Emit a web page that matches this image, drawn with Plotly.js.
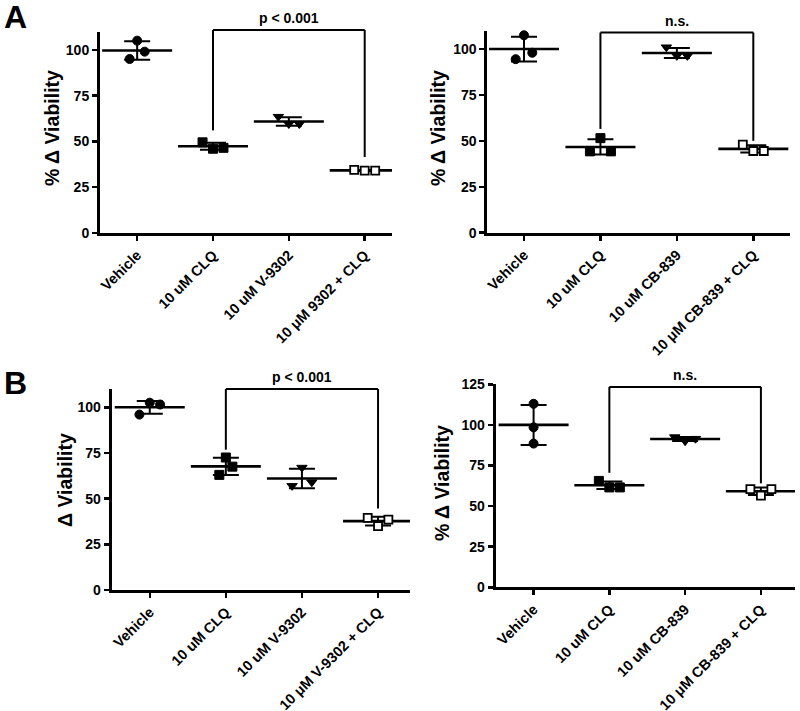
<!DOCTYPE html>
<html><head><meta charset="utf-8">
<script src="https://cdn.plot.ly/plotly-3.0.1.min.js"></script>
<style>html,body{margin:0;padding:0;background:#fff}#chart{width:800px;height:711px}</style>
</head><body><div id="chart"></div>
<script>
// ---------- categories ----------
const catsAL = ['Vehicle', '10 uM CLQ', '10 uM V-9302', '10 μM 9302 + CLQ'];
const catsAR = ['Vehicle', '10 uM CLQ', '10 uM CB-839', '10 μM CB-839 + CLQ'];
const catsBL = ['Vehicle', '10 uM CLQ', '10 uM V-9302', '10 μM V-9302 + CLQ'];
const catsBR = ['Vehicle', '10 uM CLQ', '10 uM CB-839', '10 μM CB-839 + CLQ'];

// ---------- values (% viability, three replicates each) ----------
const vehicleAL = [95, 105, 99];
const clqAL     = [49.5, 46, 46.5];
const v9302AL   = [63.5, 59.5, 59.5];
const comboAL   = [34.5, 34, 34];

const vehicleAR = [94.5, 107.5, 98];
const clqAR     = [44.3, 51.5, 44.3];
const cb839AR   = [101, 96.3, 96.3];
const comboAR   = [48, 44.5, 44.5];

const vehicleBL = [96, 102.5, 101.5];
const clqBL     = [63, 72.5, 67.5];
const v9302BL   = [57, 67, 59];
const comboBL   = [39.5, 35, 38.5];

const vehicleBR = [113, 98.5, 88.5];
const clqBR     = [65.5, 61.5, 61.5];
const cb839BR   = [92.5, 90, 91.5];
const comboBR   = [60.5, 56.5, 60.5];

const yTicksA = [0, 25, 50, 75, 100];
const yTicksBR = [0, 25, 50, 75, 100, 125];

// ---------- styling / layout ----------
const W = 800, H = 711;
const FONT = 'Liberation Sans, Arial, Helvetica, sans-serif';
const symbols = ['circle', 'square', 'triangle-down', 'square'];

const panels = [
  {cats: catsAL, groups: [vehicleAL, clqAL, v9302AL, comboAL], ax: '', xpx: [100, 392], ypx: [233, 31.5], xr: [-0.49, 3.36], yr: [0, 110], ticks: yTicksA,
   title: '% Δ Viability', titlePos: [52, 128], bracket: {a: 1, b: 3, top: 110.8, legs: [56, 41.5], text: 'p < 0.001'}},
  {cats: catsAR, groups: [vehicleAR, clqAR, cb839AR, comboAR], ax: '2', xpx: [487.3, 790], ypx: [232.7, 30.7], xr: [-0.48, 3.48], yr: [0, 110], ticks: yTicksA,
   title: '% Δ Viability', titlePos: [438, 128], bracket: {a: 1, b: 3, top: 109, legs: [56.5, 50], text: 'n.s.'}},
  {cats: catsBL, groups: [vehicleBL, clqBL, v9302BL, comboBL], ax: '3', xpx: [111.7, 410], ypx: [590, 389], xr: [-0.5, 3.42], yr: [0, 110], ticks: yTicksA,
   title: 'Δ Viability', titlePos: [65, 480], bracket: {a: 1, b: 3, top: 110, legs: [76.8, 44.6], text: 'p < 0.001'}},
  {cats: catsBR, groups: [vehicleBR, clqBR, cb839BR, comboBR], ax: '4', xpx: [495.7, 795], ypx: [587.3, 384.3], xr: [-0.5, 3.45], yr: [0, 125], ticks: yTicksBR,
   title: '% Δ Viability', titlePos: [442, 483], bracket: {a: 1, b: 3, top: 123.4, legs: [70.5, 64], text: 'n.s.'}}
];

const traces = [];
const layout = {
  width: W, height: H, margin: {l: 0, r: 0, t: 0, b: 0},
  paper_bgcolor: '#fff', plot_bgcolor: 'rgba(0,0,0,0)',
  showlegend: false, shapes: [], annotations: []
};

const mean = a => a.reduce((s, v) => s + v, 0) / a.length;
const sd = a => { const m = mean(a); return Math.sqrt(a.reduce((s, v) => s + (v - m) * (v - m), 0) / (a.length - 1)); };

panels.forEach(p => {
  const xd = [p.xpx[0] / W, p.xpx[1] / W];
  const yd = [1 - p.ypx[0] / H, 1 - p.ypx[1] / H];
  const pxPerCat = (p.xpx[1] - p.xpx[0]) / (p.xr[1] - p.xr[0]);
  const pxPerUnit = (p.ypx[0] - p.ypx[1]) / (p.yr[1] - p.yr[0]);
  const xa = 'x' + p.ax, ya = 'y' + p.ax;
  const toPX = v => xd[0] + (xd[1] - xd[0]) * (v - p.xr[0]) / (p.xr[1] - p.xr[0]);
  const toPY = v => yd[0] + (yd[1] - yd[0]) * (v - p.yr[0]) / (p.yr[1] - p.yr[0]);

  p.groups.forEach((vals, gi) => {
    // spread overlapping points horizontally (scatter-dot style)
    const D = 10.5;
    let minDy = Infinity;
    for (let i = 0; i < vals.length; i++) for (let j = i + 1; j < vals.length; j++)
      minDy = Math.min(minDy, Math.abs(vals[i] - vals[j]) * pxPerUnit);
    const s = minDy >= D ? 0 : Math.sqrt(D * D - minDy * minDy) / pxPerCat;
    const xs = vals.map((v, k) => gi + (k - (vals.length - 1) / 2) * s);
    const m = mean(vals), e = sd(vals);
    // mean line + SD
    traces.push({
      type: 'scatter', mode: 'markers', xaxis: xa, yaxis: ya, x: [gi], y: [m], hoverinfo: 'skip',
      marker: {symbol: 'line-ew', size: 50, color: '#000', line: {color: '#000', width: 2.6}},
      error_y: {type: 'data', array: [e], visible: true, color: '#000', thickness: 2, width: 13}
    });
    traces.push({
      type: 'scatter', mode: 'markers', xaxis: xa, yaxis: ya, x: xs, y: vals, cliponaxis: false,
      marker: {symbol: symbols[gi], size: gi === 3 ? 8 : 9, color: gi === 3 ? '#fff' : '#000',
               line: {color: '#000', width: gi === 3 ? 1.8 : 1}}
    });
  });

  const axCommon = {showgrid: false, zeroline: false, showline: true, linecolor: '#000', linewidth: 3,
    ticks: 'outside', ticklen: 5, tickwidth: 2.5, tickcolor: '#000', fixedrange: true};
  layout['xaxis' + p.ax] = Object.assign({}, axCommon, {
    domain: xd, anchor: ya, range: p.xr, tickvals: [0, 1, 2, 3], ticktext: p.cats, tickangle: -45,
    tickfont: {family: FONT, size: 14.5, color: '#000', weight: 'bold'}
  });
  layout['yaxis' + p.ax] = Object.assign({}, axCommon, {
    domain: yd, anchor: xa, range: p.yr, tickvals: p.ticks, ticktext: p.ticks.map(String),
    tickfont: {family: FONT, size: 14, color: '#000', weight: 'bold'}
  });

  // y-axis title
  layout.annotations.push({xref: 'paper', yref: 'paper', x: p.titlePos[0] / W, y: 1 - p.titlePos[1] / H,
    text: p.title, showarrow: false, textangle: -90, xanchor: 'center', yanchor: 'middle',
    font: {family: FONT, size: 19.5, color: '#000', weight: 'bold'}});

  // significance bracket
  const b = p.bracket;
  const lineStyle = {color: '#000', width: 2};
  layout.shapes.push(
    {type: 'line', xref: 'paper', yref: 'paper', x0: toPX(b.a), x1: toPX(b.a), y0: toPY(b.legs[0]), y1: toPY(b.top), line: lineStyle},
    {type: 'line', xref: 'paper', yref: 'paper', x0: toPX(b.a), x1: toPX(b.b), y0: toPY(b.top), y1: toPY(b.top), line: lineStyle},
    {type: 'line', xref: 'paper', yref: 'paper', x0: toPX(b.b), x1: toPX(b.b), y0: toPY(b.legs[1]), y1: toPY(b.top), line: lineStyle}
  );
  layout.annotations.push({xref: 'paper', yref: 'paper', x: (toPX(b.a) + toPX(b.b)) / 2, y: toPY(b.top),
    text: b.text, showarrow: false, xanchor: 'center', yanchor: 'bottom', yshift: 2,
    font: {family: FONT, size: 14, color: '#000', weight: 'bold'}});
});

// panel letters
[['A', 15, 17], ['B', 15, 383]].forEach(([t, x, y]) => layout.annotations.push({
  xref: 'paper', yref: 'paper', x: x / W, y: 1 - y / H, text: t, showarrow: false,
  xanchor: 'center', yanchor: 'middle', font: {family: FONT, size: 32, color: '#000', weight: 'bold'}}));

Plotly.newPlot('chart', traces, layout, {staticPlot: true, displayModeBar: false});
</script>
</body></html>
